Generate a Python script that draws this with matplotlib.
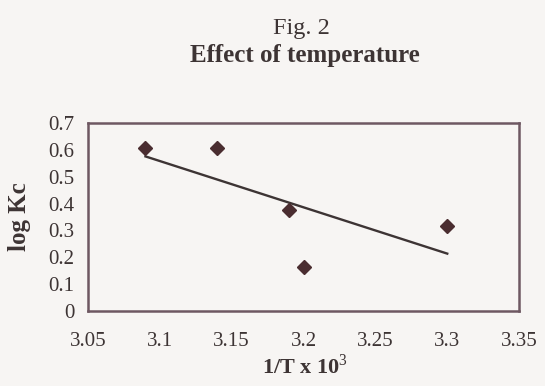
import numpy as np
import matplotlib
matplotlib.use("Agg")
import matplotlib.pyplot as plt

# values
inv_T = [3.09, 3.14, 3.19, 3.20, 3.30]      # 1/T x 10^3
log_kc = [0.607, 0.607, 0.376, 0.162, 0.316]
xticks = [3.05, 3.1, 3.15, 3.2, 3.25, 3.3, 3.35]
yticks = [0, 0.1, 0.2, 0.3, 0.4, 0.5, 0.6, 0.7]

ink = "#3d3434"
box = "#6e5862"
bg = "#f7f5f3"

plt.rcParams.update({"font.family": "Liberation Serif", "font.size": 15,
                     "mathtext.fontset": "custom",
                     "mathtext.rm": "Liberation Serif",
                     "mathtext.bf": "Liberation Serif:bold"})

fig = plt.figure(figsize=(5.45, 3.86), dpi=100, facecolor=bg)
ax = fig.add_axes([0.1615, 0.1943, 0.791, 0.487])
ax.set_facecolor(bg)

# linear trendline through the points, drawn across the data range
k, b = np.polyfit(inv_T, log_kc, 1)
xl = np.array([min(inv_T), max(inv_T)])
ax.plot(xl, k * xl + b, color=ink, lw=1.7, zorder=2)
ax.plot(inv_T, log_kc, ls="none", marker="D", ms=7.5, color="#4a2d30", zorder=3)

ax.set_xlim(3.05, 3.35)
ax.set_ylim(0, 0.7)
ax.set_xticks(xticks)
ax.set_xticklabels([f"{v:g}" for v in xticks])
ax.set_yticks(yticks)
ax.set_yticklabels([f"{v:g}" for v in yticks])
ax.tick_params(length=0, colors=ink, labelsize=15)
ax.tick_params(axis="x", pad=15)
ax.tick_params(axis="y", pad=10)
for s in ax.spines.values():
    s.set_color(box)
    s.set_linewidth(1.8)

fig.text(0.553, 0.927, "Fig. 2", ha="center", va="center", color=ink, fontsize=17.5)
fig.text(0.56, 0.857, "Effect of temperature", ha="center", va="center",
         color=ink, fontsize=18, fontweight="bold")
fig.text(0.035, 0.44, "log Kc", rotation=90, ha="center", va="center",
         color=ink, fontsize=18, fontweight="bold")
fig.text(0.56, 0.05, r"1/T x 10$^\mathrm{3}$", ha="center", va="center",
         color=ink, fontsize=16, fontweight="bold")

fig.savefig("out.png", dpi=100, facecolor=bg)
